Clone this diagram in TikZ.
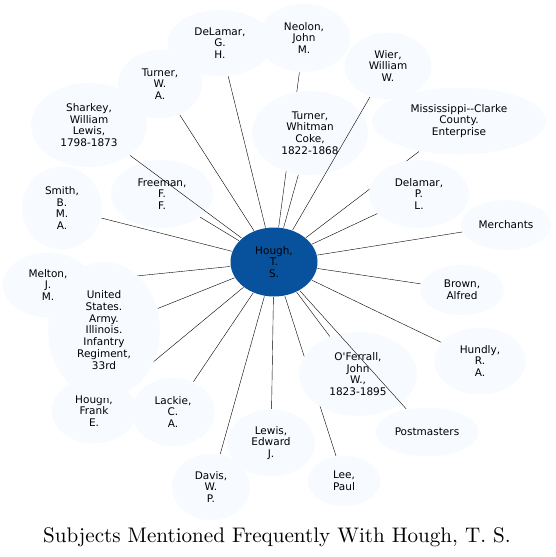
\documentclass[tikz,border=0pt]{standalone}
\usepackage{fontspec}
\newfontfamily\labelfont{DejaVu Sans}
\newfontfamily\titlefont{lmroman10-regular.otf}
\usetikzlibrary{shapes.geometric}
\definecolor{paleblue}{HTML}{F7FBFF}
\definecolor{deepblue}{HTML}{08519C}
\pgfdeclarelayer{edges}
\pgfsetlayers{edges,main}

\begin{document}
\begin{tikzpicture}[x=1pt,y=-1pt,line width=1.35pt,
  subj/.style={ellipse,fill=paleblue,inner sep=0pt,align=center,
    font=\labelfont\fontsize{10.5}{11.8}\selectfont},
  hub/.style={subj,fill=deepblue}]
\useasboundingbox (0,0) rectangle (556,557);
% ---------- subjects, upper half ----------
\node[subj,minimum width=105,minimum height=66] (delamarg) at (220,43) {DeLamar,\\G.\\H.};
\node[subj,minimum width=92,minimum height=68] (neolon) at (304,38) {Neolon,\\John\\M.};
\node[subj,minimum width=87,minimum height=67] (wier) at (388,66) {Wier,\\William\\W.};
\node[subj,minimum width=84,minimum height=68] (turnerwa) at (160,84) {Turner,\\W.\\A.};
\node[subj,minimum width=116,minimum height=84] (sharkey) at (89,125) {Sharkey,\\William\\Lewis,\\1798-1873};
\node[subj,minimum width=116,minimum height=84] (turnerwc) at (310,133) {Turner,\\Whitman\\Coke,\\1822-1868};
\node[subj,minimum width=174,minimum height=67] (mississippi) at (459,121) {Mississippi-\kern0pt-Clarke\\County.\\Enterprise};
\node[subj,minimum width=102,minimum height=68] (freeman) at (162,194) {Freeman,\\F.\\F.};
\node[subj,minimum width=100,minimum height=68] (delamarp) at (419,194) {Delamar,\\P.\\L.};
\node[subj,minimum width=80,minimum height=83] (smith) at (62,208) {Smith,\\B.\\M.\\A.};
\node[subj,minimum width=90,minimum height=50] (merchants) at (506,225) {Merchants};
% ---------- subjects, lower half ----------
\node[subj,minimum width=90,minimum height=65] (melton) at (48,285) {Melton,\\J.\\M.};
\node[subj,minimum width=84,minimum height=50] (brown) at (462,290) {Brown,\\Alfred};
\node[subj,minimum width=85,minimum height=65] (houghf) at (94,411) {Hough,\\Frank\\E.};
\node[subj,minimum width=112,minimum height=136] (usarmy) at (104,330) {United\\States.\\Army.\\Illinois.\\Infantry\\Regiment,\\33rd};
\node[subj,minimum width=91,minimum height=67] (hundly) at (480,361) {Hundly,\\R.\\A.};
\node[subj,minimum width=118,minimum height=84] (oferrall) at (358,374) {O'Ferrall,\\John\\W.,\\1823-1895};
\node[subj,minimum width=83,minimum height=68] (lackie) at (173,412) {Lackie,\\C.\\A.};
\node[subj,minimum width=103,minimum height=49] (postmasters) at (427,432) {Postmasters};
\node[subj,minimum width=88,minimum height=67] (lewis) at (271,443) {Lewis,\\Edward\\J.};
\node[subj,minimum width=73,minimum height=50] (lee) at (344,481) {Lee,\\Paul};
\node[subj,minimum width=78,minimum height=67] (davis) at (211,487) {Davis,\\W.\\P.};
% ---------- hub ----------
\node[hub,minimum width=87,minimum height=69] (hough) at (274,262) {Hough,\\T.\\S.};
% ---------- links behind the subjects ----------
\begin{pgfonlayer}{edges}
  \draw (hough) -- (delamarg);
  \draw (hough) -- (neolon);
  \draw (hough) -- (turnerwa);
  \draw (hough) -- (turnerwc);
  \draw (hough) -- (mississippi);
  \draw (hough) -- (freeman);
  \draw (hough) -- (delamarp);
  \draw (hough) -- (smith);
  \draw (hough) -- (merchants);
  \draw (hough) -- (melton);
  \draw (hough) -- (brown);
  \draw (hough) -- (houghf);
  \draw (hough) -- (usarmy);
  \draw (hough) -- (hundly);
  \draw (hough) -- (oferrall);
  \draw (hough) -- (lackie);
  \draw (hough) -- (lewis);
  \draw (hough) -- (lee);
  \draw (hough) -- (davis);
\end{pgfonlayer}
% ---------- links over the subjects ----------
\draw (hough) -- (sharkey);
\draw (hough) -- (wier);
\draw (hough) -- (postmasters);
% ---------- title ----------
\node[anchor=base] (title) at (277,542) {\titlefont\fontsize{21.1}{25}\selectfont Subjects Mentioned Frequently With Hough, T. S.};
\end{tikzpicture}
\end{document}
